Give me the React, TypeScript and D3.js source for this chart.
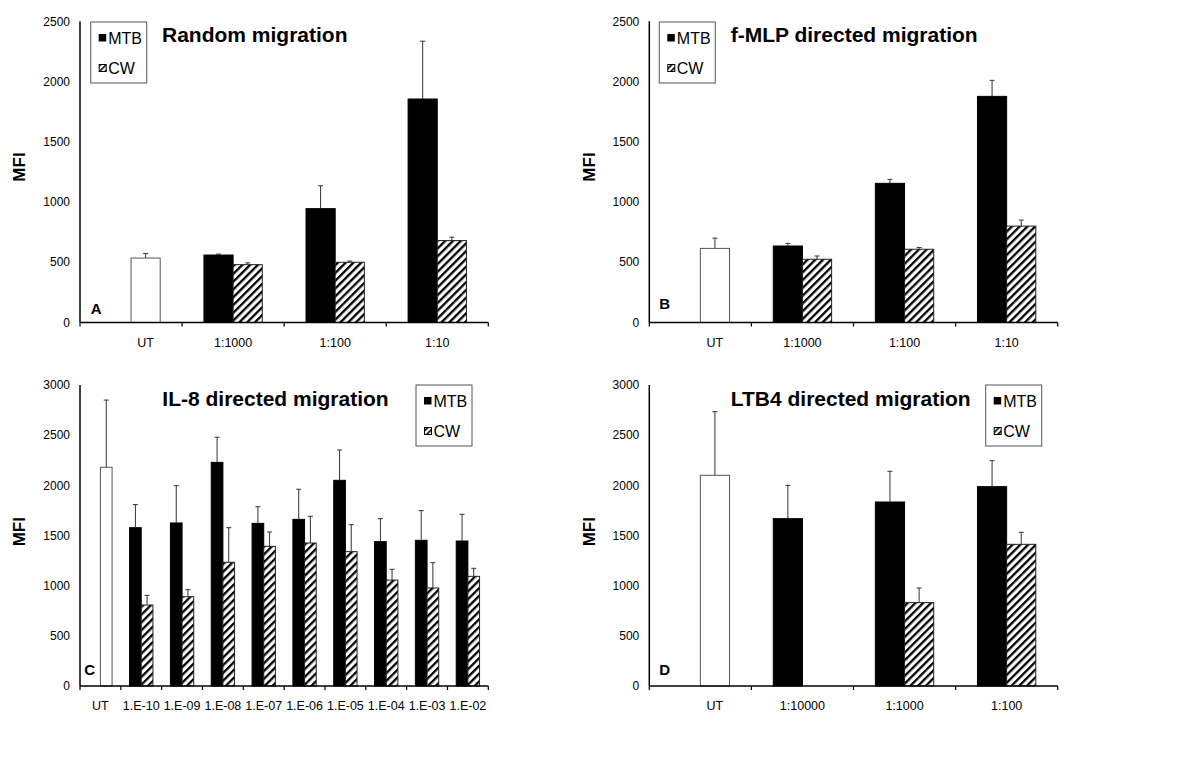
import React from "react";
import * as d3 from "d3";

// ---------- DATA ----------
const catsA = ["UT", "1:1000", "1:100", "1:10"];
const utA = 535;
const utErrA = 38;
const mtbA = [null, 560, 945, 1855];
const mtbErrA = [null, 8, 190, 480];
const cwA = [null, 480, 500, 680];
const cwErrA = [null, 15, 10, 28];

const catsB = ["UT", "1:1000", "1:100", "1:10"];
const utB = 615;
const utErrB = 85;
const mtbB = [null, 635, 1155, 1877];
const mtbErrB = [null, 22, 33, 133];
const cwB = [null, 525, 608, 800];
const cwErrB = [null, 27, 14, 50];

const catsC = ["UT", "1.E-10", "1.E-09", "1.E-08", "1.E-07", "1.E-06", "1.E-05", "1.E-04", "1.E-03", "1.E-02"];
const utC = 2180;
const utErrC = 670;
const mtbC = [null, 1578, 1625, 2229, 1621, 1661, 2050, 1439, 1452, 1445];
const mtbErrC = [null, 230, 372, 250, 166, 300, 302, 229, 296, 266];
const cwC = [null, 807, 890, 1233, 1392, 1425, 1339, 1056, 977, 1093];
const cwErrC = [null, 97, 70, 345, 143, 266, 269, 107, 252, 80];

const catsD = ["UT", "1:10000", "1:1000", "1:100"];
const utD = 2100;
const utErrD = 634;
const mtbD = [null, 1668, 1834, 1987];
const mtbErrD = [null, 332, 306, 259];
const cwD = [null, null, 831, 1412];
const cwErrD = [null, null, 146, 120];

const ticksAB = [0, 500, 1000, 1500, 2000, 2500];
const ticksCD = [0, 500, 1000, 1500, 2000, 2500, 3000];

const seriesNames = ["MTB", "CW"];

const FONT = "'Liberation Sans', Arial, Helvetica, sans-serif";

type PanelProps = {
  cats: string[];
  ut: number;
  utErr: number;
  mtb: (number | null)[];
  mtbErr: (number | null)[];
  cw: (number | null)[];
  cwErr: (number | null)[];
  ticks: number[];
  x0: number;
  x1: number;
  yBase: number;
  yTop: number;
  title: string;
  titleX: number;
  titleY: number;
  letter: string;
  letterX: number;
  letterY: number;
  legendX: number;
  legendY: number;
  mfiX: number;
  mfiY: number;
  utLabelOnBar: boolean;
};

function ErrBar({ x, yv, ye }: { x: number; yv: number; ye: number }) {
  return (
    <g stroke="#333" strokeWidth={1}>
      <line x1={x} x2={x} y1={yv} y2={ye} />
      <line x1={x - 2.5} x2={x + 2.5} y1={ye} y2={ye} />
    </g>
  );
}

function Panel(p: PanelProps) {
  const yMax = p.ticks[p.ticks.length - 1];
  const x = d3.scaleBand<string>().domain(p.cats).range([p.x0, p.x1]).padding(0);
  const y = d3.scaleLinear().domain([0, yMax]).range([p.yBase, p.yTop]);
  const bw = x.bandwidth() / 3.5;
  const center = (c: string) => (x(c) as number) + x.bandwidth() / 2;
  const boundaries = p.cats.map((c) => x(c) as number).concat([p.x1]);

  const bars: React.ReactNode[] = [];
  p.cats.forEach((c, i) => {
    const cx = center(c);
    if (i === 0) {
      bars.push(
        <rect key={"ut"} x={cx} y={y(p.ut)} width={bw} height={p.yBase - y(p.ut)} fill="#fff" stroke="#555" strokeWidth={1} />
      );
      bars.push(<ErrBar key="ute" x={cx + bw / 2} yv={y(p.ut)} ye={y(p.ut + p.utErr)} />);
      return;
    }
    const m = p.mtb[i];
    if (m != null) {
      bars.push(<rect key={"m" + i} x={cx - bw} y={y(m)} width={bw} height={p.yBase - y(m)} fill="#000" stroke="#000" strokeWidth={1} />);
      bars.push(<ErrBar key={"me" + i} x={cx - bw / 2} yv={y(m)} ye={y(m + (p.mtbErr[i] as number))} />);
    }
    const w = p.cw[i];
    if (w != null) {
      bars.push(<rect key={"w" + i} x={cx} y={y(w)} width={bw} height={p.yBase - y(w)} fill="url(#hatch)" stroke="#222" strokeWidth={1} />);
      bars.push(<ErrBar key={"we" + i} x={cx + bw / 2} yv={y(w)} ye={y(w + (p.cwErr[i] as number))} />);
    }
  });

  const lx = p.legendX;
  const ly = p.legendY;

  return (
    <g fontFamily={FONT}>
      {bars}
      <line x1={p.x0} x2={p.x0} y1={p.yTop} y2={p.yBase} stroke="#000" strokeWidth={1.5} />
      <line x1={p.x0} x2={p.x1} y1={p.yBase} y2={p.yBase} stroke="#000" strokeWidth={1.5} />
      {boundaries.map((b, i) => (
        <line key={"t" + i} x1={b} x2={b} y1={p.yBase} y2={p.yBase + 4} stroke="#000" strokeWidth={1.2} />
      ))}
      {p.ticks.map((t) => (
        <text key={"yt" + t} x={p.x0 - 10} y={y(t)} dy="0.35em" textAnchor="end" fontSize={12} fill="#000">
          {t}
        </text>
      ))}
      {p.cats.map((c, i) => (
        <text
          key={"xl" + c}
          x={i === 0 && p.utLabelOnBar ? center(c) + bw / 2 : center(c)}
          y={p.yBase + 24}
          textAnchor="middle"
          fontSize={12.5}
          fill="#000"
        >
          {c}
        </text>
      ))}
      <text x={p.mfiX} y={p.mfiY} transform={`rotate(-90 ${p.mfiX} ${p.mfiY})`} textAnchor="middle" dy="0.35em" fontWeight="bold" fontSize={17}>
        MFI
      </text>
      <text x={p.titleX} y={p.titleY} fontWeight="bold" fontSize={21}>
        {p.title}
      </text>
      <text x={p.letterX} y={p.letterY} fontWeight="bold" fontSize={15}>
        {p.letter}
      </text>
      <g>
        <rect x={lx} y={ly} width={56} height={61} fill="#fff" stroke="#555" strokeWidth={1} />
        <rect x={lx + 8} y={ly + 12} width={7.5} height={7.5} fill="#000" />
        <text x={lx + 17.5} y={ly + 22} fontSize={16}>
          {seriesNames[0]}
        </text>
        <rect x={lx + 8.5} y={ly + 42.5} width={7} height={7} fill="url(#hatchSmall)" stroke="#000" strokeWidth={1} />
        <text x={lx + 17.5} y={ly + 52} fontSize={16}>
          {seriesNames[1]}
        </text>
      </g>
    </g>
  );
}

export default function App() {
  return (
    <svg
      width={1200}
      height={776}
      viewBox="0 0 1200 776"
      style={{ position: "absolute", left: 0, top: 0, display: "block", background: "#fff" }}
    >
      <defs>
        <pattern id="hatch" patternUnits="userSpaceOnUse" width={5.5} height={5.5} patternTransform="rotate(45)">
          <rect width={5.5} height={5.5} fill="#fff" />
          <rect x={0} y={0} width={2.3} height={5.5} fill="#000" />
        </pattern>
        <pattern id="hatchSmall" patternUnits="userSpaceOnUse" width={4} height={4} patternTransform="rotate(45)">
          <rect width={4} height={4} fill="#fff" />
          <rect x={0} y={0} width={1.6} height={4} fill="#000" />
        </pattern>
      </defs>
      <rect width={1200} height={776} fill="#fff" />
      <Panel
        cats={catsA} ut={utA} utErr={utErrA} mtb={mtbA} mtbErr={mtbErrA} cw={cwA} cwErr={cwErrA}
        ticks={ticksAB} x0={80} x1={488.3} yBase={322.5} yTop={21.3}
        title="Random migration" titleX={162} titleY={42.3}
        letter="A" letterX={90.7} letterY={314}
        legendX={90.7} legendY={22} mfiX={19.3} mfiY={167} utLabelOnBar={true}
      />
      <Panel
        cats={catsB} ut={utB} utErr={utErrB} mtb={mtbB} mtbErr={mtbErrB} cw={cwB} cwErr={cwErrB}
        ticks={ticksAB} x0={649.3} x1={1057.7} yBase={322.5} yTop={21.3}
        title="f-MLP directed migration" titleX={730.7} titleY={42.3}
        letter="B" letterX={659.3} letterY={308.5}
        legendX={659.3} legendY={22} mfiX={588.6} mfiY={167} utLabelOnBar={true}
      />
      <Panel
        cats={catsC} ut={utC} utErr={utErrC} mtb={mtbC} mtbErr={mtbErrC} cw={cwC} cwErr={cwErrC}
        ticks={ticksCD} x0={80} x1={488.3} yBase={686} yTop={385}
        title="IL-8 directed migration" titleX={162.3} titleY={405.7}
        letter="C" letterX={84.3} letterY={675}
        legendX={416} legendY={385} mfiX={19.5} mfiY={531.7} utLabelOnBar={false}
      />
      <Panel
        cats={catsD} ut={utD} utErr={utErrD} mtb={mtbD} mtbErr={mtbErrD} cw={cwD} cwErr={cwErrD}
        ticks={ticksCD} x0={649.3} x1={1057.7} yBase={686} yTop={385}
        title="LTB4 directed migration" titleX={730.7} titleY={405.7}
        letter="D" letterX={659.3} letterY={675}
        legendX={985.7} legendY={385} mfiX={588.6} mfiY={531.7} utLabelOnBar={true}
      />
    </svg>
  );
}
